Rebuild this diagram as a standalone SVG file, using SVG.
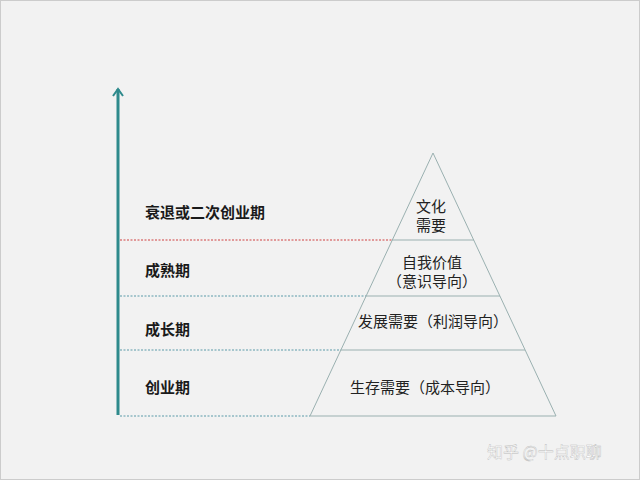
<svg xmlns="http://www.w3.org/2000/svg" width="640" height="480" viewBox="0 0 640 480">
<style>
.t{font-family:"Noto Sans CJK SC","Noto Sans",sans-serif;font-size:15px;fill:#222}
.l{font-weight:bold;font-size:15px;fill:#1a1a1a}
.p{fill:none;stroke:#9ab0b0;stroke-width:1}
.d{stroke:#5a9aa8;stroke-width:1;stroke-dasharray:2 1.5}
</style>
<defs><marker id="ah" markerWidth="12" markerHeight="12" refX="9" refY="6" orient="auto" markerUnits="userSpaceOnUse"><path d="M2,1 L9,6 L2,11" fill="none" stroke="#2e8a8c" stroke-width="2"/></marker></defs>
<rect width="640" height="480" fill="#f2f2f2"/>
<rect x="0.5" y="0.5" width="639" height="479" fill="none" stroke="#ccc"/>
<g id="connectors">
<line x1="118" y1="415" x2="118" y2="89" stroke="#2e8a8c" stroke-width="3" marker-end="url(#ah)"/>
<line x1="120" y1="240" x2="392" y2="240" stroke="#d04040" stroke-width="1" stroke-dasharray="2 1.5"/>
<line class="d" x1="120" y1="296" x2="366" y2="296"/>
<line class="d" x1="120" y1="350" x2="341" y2="350"/>
<line class="d" x1="120" y1="416" x2="310" y2="416"/>
</g>
<g id="pyramid">
<polygon class="p" points="433,153 310,416 556,416"/>
<line class="p" x1="392" y1="240" x2="474" y2="240" stroke="#c8d8d8"/>
<line class="p" x1="366" y1="296" x2="500" y2="296"/>
<line class="p" x1="341" y1="350" x2="525" y2="350"/>
</g>
<g id="labels">
<text class="t l" x="145" y="218">衰退或二次创业期</text>
<text class="t l" x="145" y="276">成熟期</text>
<text class="t l" x="145" y="335">成长期</text>
<text class="t l" x="145" y="393">创业期</text>
</g>
<g id="levels" text-anchor="middle">
<text class="t" x="431" y="212">文化</text>
<text class="t" x="431" y="231">需要</text>
<text class="t" x="432" y="268">自我价值</text>
<text class="t" x="432" y="287">（意识导向）</text>
<text class="t" x="433" y="327">发展需要（利润导向）</text>
<text class="t" x="425" y="393">生存需要（成本导向）</text>
</g>
<text x="487" y="458" style="font-family:'Noto Sans CJK SC',sans-serif;font-size:16px;fill:#fff;stroke:#bbb;stroke-width:0.4">知乎 @十点职聊</text>
</svg>
